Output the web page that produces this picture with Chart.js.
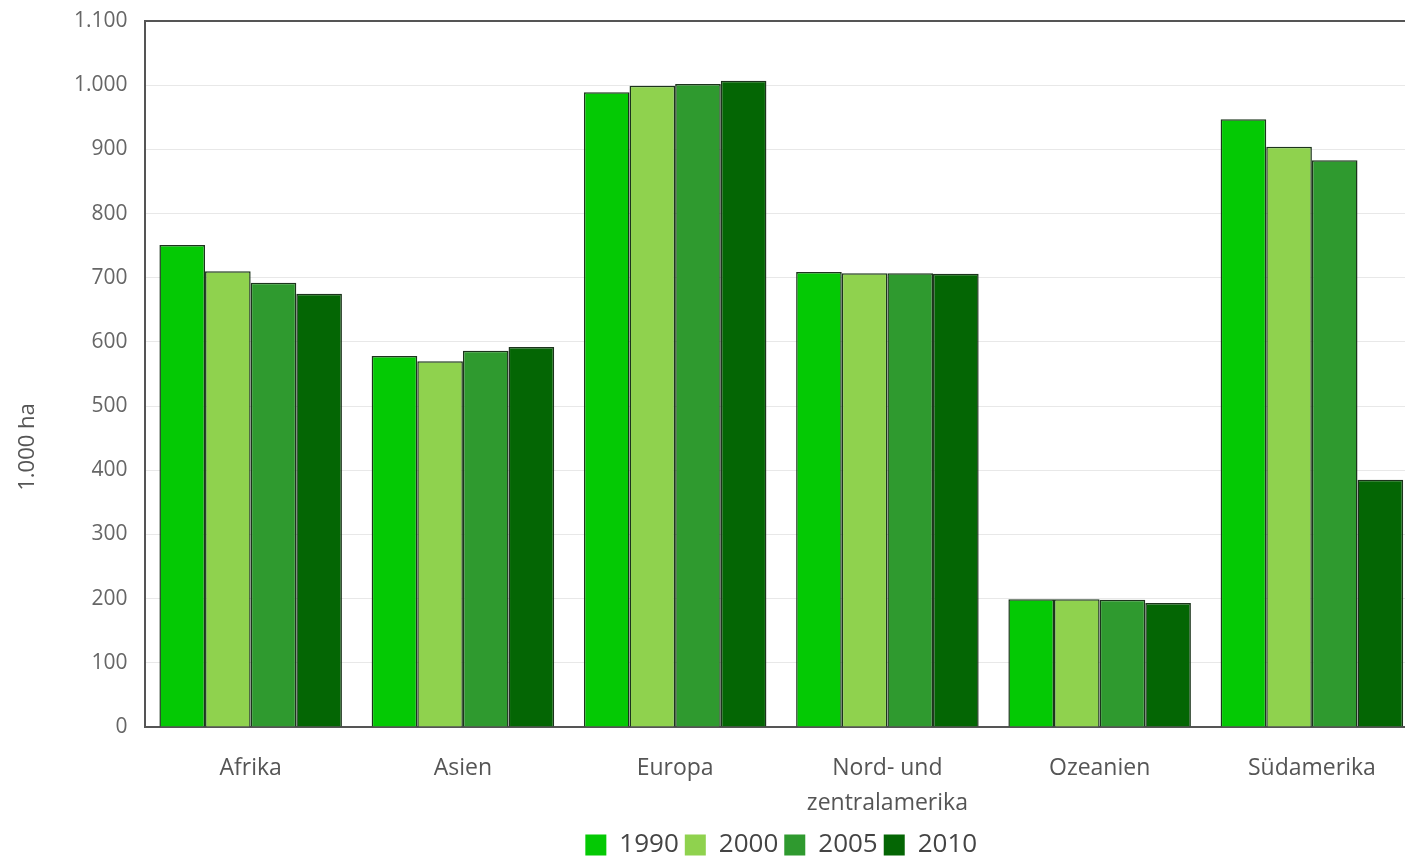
<!DOCTYPE html>
<html lang="de">
<head>
<meta charset="utf-8">
<title>Waldfläche nach Kontinenten</title>
<script src="https://cdn.jsdelivr.net/npm/chart.js@4.4.1/dist/chart.umd.min.js"></script>
<style>
  html, body { margin: 0; padding: 0; background: #ffffff; overflow: hidden; }
  #wrap { position: relative; width: 1420px; height: 868px; }
</style>
</head>
<body>
<div id="wrap"><canvas id="chart"></canvas></div>
<script>
// Regions on the x axis
const regions = ['Afrika', 'Asien', 'Europa', ['Nord- und', 'zentralamerika'], 'Ozeanien', 'Südamerika'];

// Forest area per year, in 1.000 ha
const years = ['1990', '2000', '2005', '2010'];
const area1990 = [751, 578, 989, 709, 199, 947];
const area2000 = [710, 570, 999, 707, 199, 904];
const area2005 = [692, 586, 1002, 707, 198, 883];
const area2010 = [675, 592, 1007, 706, 193, 385];

// Value axis
const yMin = 0;
const yMax = 1100;
const yStep = 100;
const yTitle = '1.000 ha';

const colors = ['#04c904', '#8fd24e', '#2f9a2f', '#046604'];
const seriesValues = [area1990, area2000, area2005, area2010];

const FONT = '"Open Sans", sans-serif';

const datasets = years.map((y, i) => ({
  label: y,
  data: seriesValues[i],
  backgroundColor: colors[i],
  borderColor: '#1c341c',
  borderWidth: 1.5,
  barPercentage: 1.0,
  categoryPercentage: 0.86
}));

const fmt = v => String(v).replace(/\B(?=(\d{3})+(?!\d))/g, '.');

// Rotated value axis title, drawn left of the tick labels
const axisTitlePlugin = {
  id: 'axisTitle',
  afterDraw(chart) {
    const ctx = chart.ctx;
    ctx.save();
    ctx.translate(28, 447);
    ctx.rotate(-Math.PI / 2);
    ctx.fillStyle = '#555555';
    ctx.font = '22px ' + FONT;
    ctx.textAlign = 'center';
    ctx.textBaseline = 'middle';
    ctx.fillText(yTitle, 0, 0);
    ctx.restore();
  }
};

new Chart(document.getElementById('chart'), {
  type: 'bar',
  data: { labels: regions, datasets },
  plugins: [axisTitlePlugin],
  options: {
    responsive: true,
    maintainAspectRatio: false,
    animation: false,
    layout: { padding: { top: 21, left: 57, right: 2, bottom: 0 } },
    plugins: {
      tooltip: { enabled: false },
      legend: {
        position: 'bottom',
        fullSize: false,
        labels: {
          font: { family: FONT, size: 26 },
          color: '#444444',
          boxWidth: 21,
          boxHeight: 21,
          padding: 6,
          generateLabels(chart) {
            return chart.data.datasets.map((ds, i) => ({
              text: ds.label,
              fillStyle: ds.backgroundColor,
              strokeStyle: ds.backgroundColor,
              lineWidth: 0,
              fontColor: '#444444',
              datasetIndex: i,
              hidden: false
            }));
          }
        }
      }
    },
    scales: {
      x: {
        grid: { display: false, drawTicks: false },
        border: { color: '#555555', width: 2 },
        afterFit(scale) { scale.height -= 19; },
        ticks: {
          color: '#555555',
          font: { family: FONT, size: 23, lineHeight: 1.48 },
          padding: 25,
          maxRotation: 0,
          autoSkip: false
        }
      },
      y: {
        min: yMin,
        max: yMax,
        border: { color: '#555555', width: 2 },
        afterFit(scale) { scale.paddingTop = 0; },
        grid: {
          drawTicks: false,
          color: c => (c.tick && c.tick.value === yMax) ? '#555555' : '#e8e8e8',
          lineWidth: c => (c.tick && c.tick.value === yMax) ? 2 : 1
        },
        ticks: {
          stepSize: yStep,
          color: '#666666',
          font: { family: FONT, size: 21 },
          padding: 17,
          callback: v => fmt(v)
        }
      }
    }
  }
});
</script>
</body>
</html>
